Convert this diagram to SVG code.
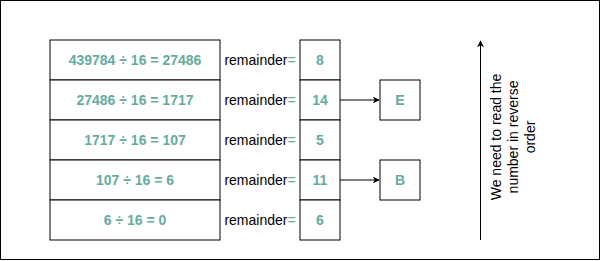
<svg xmlns="http://www.w3.org/2000/svg" width="601" height="261" viewBox="0 0 601 261">
  <style>
    .box { fill: #ffffff; stroke: #000000; stroke-width: 1; }
    .num { font-family: "Liberation Sans", Arial, sans-serif; font-size: 14px; font-weight: bold; fill: #67AB9F; text-anchor: middle; dominant-baseline: central; }
    .rem { font-family: "Liberation Sans", Arial, sans-serif; font-size: 14px; fill: #000000; text-anchor: middle; dominant-baseline: central; }
    .eq { fill: #67AB9F; }
    .letter { font-family: "Liberation Sans", Arial, sans-serif; font-size: 14px; font-weight: bold; fill: #67AB9F; text-anchor: middle; dominant-baseline: central; }
    .note { font-family: "Liberation Sans", Arial, sans-serif; font-size: 14px; fill: #000000; text-anchor: middle; }
    .conn { fill: none; stroke: #000000; stroke-width: 1; }
  </style>
  <defs>
    <marker id="arrow" viewBox="0 0 10 10" refX="9" refY="5" markerWidth="7" markerHeight="7" markerUnits="userSpaceOnUse" orient="auto">
      <path d="M0,0 L10,5 L0,10 L3,5 Z" fill="#000000"/>
    </marker>
  </defs>
  <rect x="0.5" y="0.5" width="599" height="259" fill="#ffffff" stroke="#000000" stroke-width="1"/>

  <g id="div1"><rect class="box" x="50" y="40" width="170" height="40"/><text class="num" x="135" y="60">439784 ÷ 16 = 27486</text></g>
  <g id="div2"><rect class="box" x="50" y="80" width="170" height="40"/><text class="num" x="135" y="100">27486 ÷ 16 = 1717</text></g>
  <g id="div3"><rect class="box" x="50" y="120" width="170" height="40"/><text class="num" x="135" y="140">1717 ÷ 16 = 107</text></g>
  <g id="div4"><rect class="box" x="50" y="160" width="170" height="40"/><text class="num" x="135" y="180">107 ÷ 16 = 6</text></g>
  <g id="div5"><rect class="box" x="50" y="200" width="170" height="40"/><text class="num" x="135" y="220">6 ÷ 16 = 0</text></g>

  <g id="lbl1"><text class="rem" x="260" y="60">remainder<tspan class="eq">=</tspan></text></g>
  <g id="lbl2"><text class="rem" x="260" y="100">remainder<tspan class="eq">=</tspan></text></g>
  <g id="lbl3"><text class="rem" x="260" y="140">remainder<tspan class="eq">=</tspan></text></g>
  <g id="lbl4"><text class="rem" x="260" y="180">remainder<tspan class="eq">=</tspan></text></g>
  <g id="lbl5"><text class="rem" x="260" y="220">remainder<tspan class="eq">=</tspan></text></g>

  <g id="rem1"><rect class="box" x="300" y="40" width="40" height="40"/><text class="num" x="320" y="60">8</text></g>
  <g id="rem2"><rect class="box" x="300" y="80" width="40" height="40"/><text class="num" x="320" y="100">14</text></g>
  <g id="rem3"><rect class="box" x="300" y="120" width="40" height="40"/><text class="num" x="320" y="140">5</text></g>
  <g id="rem4"><rect class="box" x="300" y="160" width="40" height="40"/><text class="num" x="320" y="180">11</text></g>
  <g id="rem5"><rect class="box" x="300" y="200" width="40" height="40"/><text class="num" x="320" y="220">6</text></g>

  <g id="hexE"><rect class="box" x="380" y="80" width="40" height="40"/><text class="letter" x="400" y="100">E</text></g>
  <g id="hexB"><rect class="box" x="380" y="160" width="40" height="40"/><text class="letter" x="400" y="180">B</text></g>

  <g id="note"><text class="note" transform="translate(501,137) rotate(-90)"><tspan x="0" y="0">We need to read the</tspan><tspan x="0" y="17">number in reverse</tspan><tspan x="0" y="34">order</tspan></text></g>

  <g id="connectors">
    <line class="conn" x1="340" y1="100" x2="379" y2="100" marker-end="url(#arrow)"/>
    <line class="conn" x1="340" y1="180" x2="379" y2="180" marker-end="url(#arrow)"/>
    <line class="conn" x1="480.5" y1="240" x2="480.5" y2="41" marker-end="url(#arrow)"/>
  </g>
</svg>
